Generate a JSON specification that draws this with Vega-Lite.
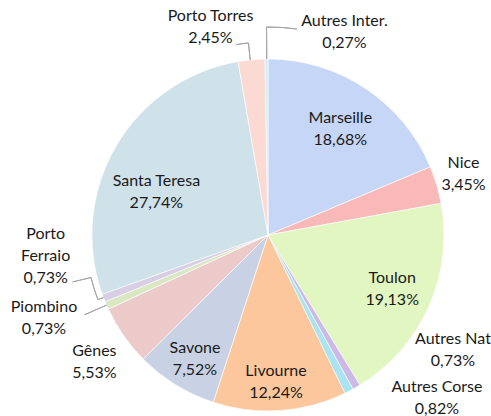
{
  "$schema": "https://vega.github.io/schema/vega-lite/v6.json",
  "width": 400,
  "height": 350,
  "autosize": "none",
  "padding": {"left": 68, "top": 60, "right": 23, "bottom": 6},
  "background": "#ffffff",
  "data": {
    "values": [
      {"name": "Marseille", "value": 0.1868, "order": 1},
      {"name": "Nice", "value": 0.0345, "order": 2},
      {"name": "Toulon", "value": 0.1913, "order": 3},
      {"name": "Autres Nat", "value": 0.0073, "order": 4},
      {"name": "Autres Corse", "value": 0.0082, "order": 5},
      {"name": "Livourne", "value": 0.1224, "order": 6},
      {"name": "Savone", "value": 0.0752, "order": 7},
      {"name": "Gênes", "value": 0.0553, "order": 8},
      {"name": "Piombino", "value": 0.0073, "order": 9},
      {"name": "Porto Ferraio", "value": 0.0073, "order": 10},
      {"name": "Santa Teresa", "value": 0.2774, "order": 11},
      {"name": "Porto Torres", "value": 0.0245, "order": 12},
      {"name": "Autres Inter.", "value": 0.0027, "order": 13}
    ]
  },
  "encoding": {
    "theta": {"field": "value", "type": "quantitative", "stack": true},
    "order": {"field": "order", "type": "quantitative"}
  },
  "resolve": {"scale": {"theta": "independent"}},
  "layer": [
    {
      "mark": {"type": "arc", "radius": 176, "stroke": "#ffffff", "strokeWidth": 0.6},
      "encoding": {
        "color": {
          "field": "name", "type": "nominal", "legend": null,
          "scale": {
            "domain": ["Marseille", "Nice", "Toulon", "Autres Nat", "Autres Corse", "Livourne", "Savone", "Gênes", "Piombino", "Porto Ferraio", "Santa Teresa", "Porto Torres", "Autres Inter."],
            "range": ["#c6d6f6", "#f9b9b9", "#e2f6c2", "#cdb9e6", "#a9e4f0", "#fcc79c", "#c8d2e4", "#eccaca", "#d9e8c3", "#d8cfe4", "#cfe1e9", "#fadad3", "#cfeef4"]
          }
        }
      }
    },
    {"transform": [{"stack": "value", "groupby": [], "sort": [{"field": "order", "order": "ascending"}], "as": ["v0", "v1"]}, {"filter": "datum.name === 'Piombino'"}],
     "mark": {"type": "arc", "radius": 200, "radius2": 176, "fillOpacity": 0, "stroke": "#a6a6a6", "strokeWidth": 1},
     "encoding": {"theta": {"field": "v0", "type": "quantitative", "stack": null, "scale": {"domain": [0, 1.0002], "range": [0.02426, 6.30745]}}, "theta2": {"field": "v0"}}},
    {"transform": [{"stack": "value", "groupby": [], "sort": [{"field": "order", "order": "ascending"}], "as": ["v0", "v1"]}, {"filter": "datum.name === 'Porto Ferraio'"}],
     "mark": {"type": "arc", "radius": 182, "radius2": 176, "fillOpacity": 0, "stroke": "#a6a6a6", "strokeWidth": 1},
     "encoding": {"theta": {"field": "v0", "type": "quantitative", "stack": null, "scale": {"domain": [0, 1.0002], "range": [0.02548, 6.30867]}}, "theta2": {"field": "v0"}}},
    {"transform": [{"stack": "value", "groupby": [], "sort": [{"field": "order", "order": "ascending"}], "as": ["v0", "v1"]}, {"filter": "datum.name === 'Porto Ferraio'"}],
     "mark": {"type": "arc", "radius": 182, "radius2": 182, "fillOpacity": 0, "stroke": "#a6a6a6", "strokeWidth": 1},
     "encoding": {"theta": {"field": "v0", "type": "quantitative", "stack": null, "scale": {"domain": [0.6883, 0.6956], "range": [4.34938, 4.47679]}}, "theta2": {"field": "v1"}}},
    {"transform": [{"stack": "value", "groupby": [], "sort": [{"field": "order", "order": "ascending"}], "as": ["v0", "v1"]}, {"filter": "datum.name === 'Porto Ferraio'"}],
     "mark": {"type": "arc", "radius": 201, "radius2": 182, "fillOpacity": 0, "stroke": "#a6a6a6", "strokeWidth": 1},
     "encoding": {"theta": {"field": "v0", "type": "quantitative", "stack": null, "scale": {"domain": [0, 1.0002], "range": [0.15289, 6.43607]}}, "theta2": {"field": "v0"}}},
    {"transform": [{"stack": "value", "groupby": [], "sort": [{"field": "order", "order": "ascending"}], "as": ["v0", "v1"]}, {"filter": "datum.name === 'Porto Torres'"}],
     "mark": {"type": "arc", "radius": 193, "radius2": 176, "fillOpacity": 0, "stroke": "#a6a6a6", "strokeWidth": 1},
     "encoding": {"theta": {"field": "v0", "type": "quantitative", "stack": null, "scale": {"domain": [0, 1.0002], "range": [0.06964, 6.35282]}}, "theta2": {"field": "v0"}}},
    {"transform": [{"stack": "value", "groupby": [], "sort": [{"field": "order", "order": "ascending"}], "as": ["v0", "v1"]}, {"filter": "datum.name === 'Porto Torres'"}],
     "mark": {"type": "arc", "radius": 193, "radius2": 193, "fillOpacity": 0, "stroke": "#a6a6a6", "strokeWidth": 1},
     "encoding": {"theta": {"field": "v0", "type": "quantitative", "stack": null, "scale": {"domain": [0.973, 0.9975], "range": [6.11739, 6.18197]}}, "theta2": {"field": "v1"}}},
    {"transform": [{"stack": "value", "groupby": [], "sort": [{"field": "order", "order": "ascending"}], "as": ["v0", "v1"]}, {"filter": "datum.name === 'Autres Inter.'"}],
     "mark": {"type": "arc", "radius": 208, "radius2": 176, "fillOpacity": 0, "stroke": "#a6a6a6", "strokeWidth": 1},
     "encoding": {"theta": {"field": "v0", "type": "quantitative", "stack": null, "scale": {"domain": [0, 1.0002], "range": [0.00995, 6.29313]}}, "theta2": {"field": "v0"}}},
    {"transform": [{"stack": "value", "groupby": [], "sort": [{"field": "order", "order": "ascending"}], "as": ["v0", "v1"]}, {"filter": "datum.name === 'Autres Inter.'"}],
     "mark": {"type": "arc", "radius": 208, "radius2": 208, "fillOpacity": 0, "stroke": "#a6a6a6", "strokeWidth": 1},
     "encoding": {"theta": {"field": "v0", "type": "quantitative", "stack": null, "scale": {"domain": [0.9975, 1.0002], "range": [6.27621, 6.42281]}}, "theta2": {"field": "v1"}}},

    {"mark": {"type": "text", "radius": 127, "dx": 2, "dy": -11}, "encoding": {"text": {"condition": {"test": "datum.name === 'Marseille'", "field": "name"}, "value": ""}}},
    {"mark": {"type": "text", "radius": 127, "dx": 2, "dy": 11}, "encoding": {"text": {"condition": {"test": "datum.name === 'Marseille'", "field": "value", "type": "quantitative", "format": ".2%"}, "value": ""}}},
    {"mark": {"type": "text", "radius": 204, "dx": 0, "dy": -14}, "encoding": {"text": {"condition": {"test": "datum.name === 'Nice'", "field": "name"}, "value": ""}}},
    {"mark": {"type": "text", "radius": 204, "dx": 0, "dy": 8}, "encoding": {"text": {"condition": {"test": "datum.name === 'Nice'", "field": "value", "type": "quantitative", "format": ".2%"}, "value": ""}}},
    {"mark": {"type": "text", "radius": 136, "dx": 0, "dy": -12.5}, "encoding": {"text": {"condition": {"test": "datum.name === 'Toulon'", "field": "name"}, "value": ""}}},
    {"mark": {"type": "text", "radius": 136, "dx": 0, "dy": 9.5}, "encoding": {"text": {"condition": {"test": "datum.name === 'Toulon'", "field": "value", "type": "quantitative", "format": ".2%"}, "value": ""}}},
    {"mark": {"type": "text", "radius": 176, "dx": 96.5, "dy": -47.7}, "encoding": {"text": {"condition": {"test": "datum.name === 'Autres Nat'", "field": "name"}, "value": ""}}},
    {"mark": {"type": "text", "radius": 176, "dx": 96.5, "dy": -25.7}, "encoding": {"text": {"condition": {"test": "datum.name === 'Autres Nat'", "field": "value", "type": "quantitative", "format": ".2%"}, "value": ""}}},
    {"mark": {"type": "text", "radius": 176, "dx": 88, "dy": -4.3}, "encoding": {"text": {"condition": {"test": "datum.name === 'Autres Corse'", "field": "name"}, "value": ""}}},
    {"mark": {"type": "text", "radius": 176, "dx": 88, "dy": 17.7}, "encoding": {"text": {"condition": {"test": "datum.name === 'Autres Corse'", "field": "value", "type": "quantitative", "format": ".2%"}, "value": ""}}},
    {"mark": {"type": "text", "radius": 147, "dx": -2, "dy": -11}, "encoding": {"text": {"condition": {"test": "datum.name === 'Livourne'", "field": "name"}, "value": ""}}},
    {"mark": {"type": "text", "radius": 147, "dx": -2, "dy": 11}, "encoding": {"text": {"condition": {"test": "datum.name === 'Livourne'", "field": "value", "type": "quantitative", "format": ".2%"}, "value": ""}}},
    {"mark": {"type": "text", "radius": 144, "dx": 2.6, "dy": -9.5}, "encoding": {"text": {"condition": {"test": "datum.name === 'Savone'", "field": "name"}, "value": ""}}},
    {"mark": {"type": "text", "radius": 144, "dx": 2.6, "dy": 12.5}, "encoding": {"text": {"condition": {"test": "datum.name === 'Savone'", "field": "value", "type": "quantitative", "format": ".2%"}, "value": ""}}},
    {"mark": {"type": "text", "radius": 214, "dx": 2, "dy": -6}, "encoding": {"text": {"condition": {"test": "datum.name === 'Gênes'", "field": "name"}, "value": ""}}},
    {"mark": {"type": "text", "radius": 214, "dx": 2, "dy": 16}, "encoding": {"text": {"condition": {"test": "datum.name === 'Gênes'", "field": "value", "type": "quantitative", "format": ".2%"}, "value": ""}}},
    {"mark": {"type": "text", "radius": 176, "dx": -62.7, "dy": 2.1}, "encoding": {"text": {"condition": {"test": "datum.name === 'Piombino'", "field": "name"}, "value": ""}}},
    {"mark": {"type": "text", "radius": 176, "dx": -62.7, "dy": 24.1}, "encoding": {"text": {"condition": {"test": "datum.name === 'Piombino'", "field": "value", "type": "quantitative", "format": ".2%"}, "value": ""}}},
    {"mark": {"type": "text", "radius": 176, "dx": -58, "dy": -64, "lineBreak": " ", "lineHeight": 22}, "encoding": {"text": {"condition": {"test": "datum.name === 'Porto Ferraio'", "field": "name"}, "value": ""}}},
    {"mark": {"type": "text", "radius": 176, "dx": -58, "dy": -20}, "encoding": {"text": {"condition": {"test": "datum.name === 'Porto Ferraio'", "field": "value", "type": "quantitative", "format": ".2%"}, "value": ""}}},
    {"mark": {"type": "text", "radius": 120, "dx": -8, "dy": 6.5}, "encoding": {"text": {"condition": {"test": "datum.name === 'Santa Teresa'", "field": "name"}, "value": ""}}},
    {"mark": {"type": "text", "radius": 120, "dx": -8, "dy": 28.5}, "encoding": {"text": {"condition": {"test": "datum.name === 'Santa Teresa'", "field": "value", "type": "quantitative", "format": ".2%"}, "value": ""}}},
    {"mark": {"type": "text", "radius": 176, "dx": -41, "dy": -44}, "encoding": {"text": {"condition": {"test": "datum.name === 'Porto Torres'", "field": "name"}, "value": ""}}},
    {"mark": {"type": "text", "radius": 176, "dx": -41, "dy": -22}, "encoding": {"text": {"condition": {"test": "datum.name === 'Porto Torres'", "field": "value", "type": "quantitative", "format": ".2%"}, "value": ""}}},
    {"mark": {"type": "text", "radius": 176, "dx": 78, "dy": -38}, "encoding": {"text": {"condition": {"test": "datum.name === 'Autres Inter.'", "field": "name"}, "value": ""}}},
    {"mark": {"type": "text", "radius": 176, "dx": 78, "dy": -16}, "encoding": {"text": {"condition": {"test": "datum.name === 'Autres Inter.'", "field": "value", "type": "quantitative", "format": ".2%"}, "value": ""}}}
  ],
  "config": {
    "view": {"stroke": null},
    "text": {"font": "Lato", "fontSize": 16, "color": "#1a1a1a", "align": "center", "baseline": "middle"},
    "locale": {"number": {"decimal": ",", "thousands": " ", "grouping": [3], "currency": ["", " €"]}}
  }
}
